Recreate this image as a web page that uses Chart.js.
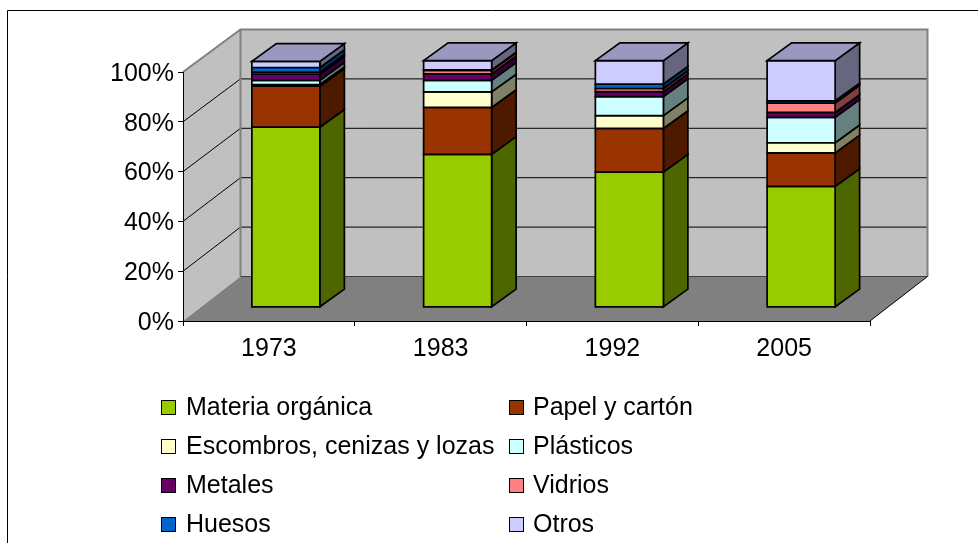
<!DOCTYPE html>
<html>
<head>
<meta charset="utf-8">
<style>html,body{margin:0;padding:0;background:#fff}canvas{display:block}</style>
<script src="https://cdn.jsdelivr.net/npm/chart.js@4/dist/chart.umd.min.js"></script>
</head>
<body>
<canvas id="c" width="978" height="543"></canvas>
<script>
const categories = ['1973', '1983', '1992', '2005'];
const materiaOrganica = [73.0, 62.0, 54.8, 49.0];
const papelCarton = [16.6, 19.0, 17.7, 13.6];
const escombros = [0.7, 6.3, 5.2, 4.1];
const plasticos = [1.7, 4.7, 7.7, 10.3];
const metales = [2.5, 2.6, 2.0, 2.0];
const vidrios = [0.8, 1.4, 1.3, 3.8];
const huesos = [1.9, 0.2, 1.8, 0.9];
const otros = [2.5, 3.8, 9.5, 16.3];
const yTicks = [0, 20, 40, 60, 80, 100];

const FONT = '"Liberation Sans", Arial, sans-serif';
const FS = 25;
const WALL = '#C0C0C0', FLOOR = '#808080';
const DEPTH_X = 57.5, WALL_TOP = 29.5, WALL_BOTTOM = 276.5;
const BAR_SHIFT_X = 17, BAR_DX = 24.5, BAR_DY = 17.7, BAR_LW = 1.7;

const poly = (ctx, pts, fill, stroke, lw) => {
  ctx.beginPath();
  pts.forEach((p, i) => i ? ctx.lineTo(p[0], p[1]) : ctx.moveTo(p[0], p[1]));
  ctx.closePath();
  if (fill) { ctx.fillStyle = fill; ctx.fill(); }
  if (stroke) { ctx.strokeStyle = stroke; ctx.lineWidth = lw; ctx.lineJoin = 'miter'; ctx.stroke(); }
};
const shade = (hex, f) => {
  const n = parseInt(hex.slice(1), 16);
  const c = [n >> 16, (n >> 8) & 255, n & 255].map(v => Math.round(v * f));
  return `rgb(${c[0]},${c[1]},${c[2]})`;
};

const scene = {
  id: 'scene',
  beforeDraw(chart) {
    const { ctx, chartArea: a, scales: { y } } = chart;
    if (!chart.$labelsShifted) {
      y.getLabelItems().forEach(item => { item.textOffset += 2; });
      chart.$labelsShifted = true;
    }
    ctx.save();
    ctx.fillStyle = '#fff';
    ctx.fillRect(0, 0, chart.width, chart.height);
    const L = a.left, R = a.right, T = a.top, B = a.bottom;
    const BL = L + DEPTH_X, BR = R + DEPTH_X;
    const wallY = p => WALL_BOTTOM - (B - p) * (WALL_BOTTOM - WALL_TOP) / (B - T);
    poly(ctx, [[L, T], [BL, WALL_TOP], [BL, WALL_BOTTOM], [L, B]], WALL);
    poly(ctx, [[BL, WALL_TOP], [BR, WALL_TOP], [BR, WALL_BOTTOM], [BL, WALL_BOTTOM]], WALL);
    poly(ctx, [[L, B], [BL, WALL_BOTTOM], [BR, WALL_BOTTOM], [R, B]], FLOOR);
    ctx.strokeStyle = '#000';
    ctx.lineWidth = 1;
    y.ticks.forEach(t => {
      if (t.value === 0 || t.value === 100) return;
      const py = y.getPixelForValue(t.value);
      ctx.beginPath();
      ctx.moveTo(L, py);
      ctx.lineTo(BL, wallY(py));
      ctx.lineTo(BR, wallY(py));
      ctx.stroke();
    });
    ctx.strokeStyle = '#808080';
    ctx.lineWidth = 2;
    ctx.beginPath();
    ctx.moveTo(L, T);
    ctx.lineTo(BL, WALL_TOP);
    ctx.lineTo(BR, WALL_TOP);
    ctx.lineTo(BR, WALL_BOTTOM);
    ctx.moveTo(BL, WALL_TOP);
    ctx.lineTo(BL, WALL_BOTTOM);
    ctx.stroke();
    ctx.strokeStyle = '#404040';
    ctx.lineWidth = 1;
    ctx.beginPath();
    ctx.moveTo(BL, WALL_BOTTOM);
    ctx.lineTo(BR, WALL_BOTTOM);
    ctx.stroke();
    ctx.strokeStyle = '#000';
    ctx.beginPath();
    ctx.moveTo(R, B);
    ctx.lineTo(BR, WALL_BOTTOM);
    ctx.stroke();
    ctx.restore();
  },
  beforeDatasetsDraw(chart) {
    const { ctx, chartArea: a } = chart;
    const toFront = p => 307.3 - (a.bottom - p) * 246.7 / (a.bottom - a.top);
    ctx.save();
    const last = chart.data.datasets.length - 1;
    chart.data.datasets.forEach((ds, di) => {
      const meta = chart.getDatasetMeta(di);
      meta.data.forEach(el => {
        const x0 = el.x - el.width / 2 + BAR_SHIFT_X, x1 = x0 + el.width;
        const yT = toFront(el.y), yB = toFront(el.base);
        poly(ctx, [[x1, yT], [x1 + BAR_DX, yT - BAR_DY], [x1 + BAR_DX, yB - BAR_DY], [x1, yB]],
          shade(ds.backgroundColor, 0.5), '#000', BAR_LW);
        poly(ctx, [[x0, yT], [x1, yT], [x1, yB], [x0, yB]], ds.backgroundColor, '#000', BAR_LW);
        if (di === last) {
          poly(ctx, [[x0, yT], [x0 + BAR_DX, yT - BAR_DY], [x1 + BAR_DX, yT - BAR_DY], [x1, yT]],
            shade(ds.backgroundColor, 0.75), '#000', BAR_LW);
        }
      });
    });
    ctx.restore();
    return false;
  },
  afterDraw(chart) {
    const { ctx } = chart;
    ctx.save();
    ctx.strokeStyle = '#000';
    ctx.lineWidth = 1;
    ctx.beginPath();
    ctx.moveTo(7.5, 543);
    ctx.lineTo(7.5, 10.5);
    ctx.lineTo(978, 10.5);
    ctx.stroke();
    const cols = [161, 509], textGaps = [25, 24], rows = [407, 446, 485, 524];
    ctx.font = FS + 'px ' + FONT;
    ctx.textBaseline = 'middle';
    ctx.textAlign = 'left';
    chart.data.datasets.forEach((ds, i) => {
      const c = cols[i % 2], r = rows[Math.floor(i / 2)];
      ctx.fillStyle = ds.backgroundColor;
      ctx.fillRect(c + .5, r - 6.5, 14, 14);
      ctx.strokeStyle = '#000';
      ctx.lineWidth = 1;
      ctx.strokeRect(c + .5, r - 6.5, 14, 14);
      ctx.fillStyle = '#000';
      ctx.fillText(ds.label, c + textGaps[i % 2], r + 1);
    });
    ctx.restore();
  }
};

new Chart(document.getElementById('c'), {
  type: 'bar',
  data: {
    labels: categories,
    datasets: [
      { label: 'Materia orgánica', data: materiaOrganica, backgroundColor: '#99CC00' },
      { label: 'Papel y cartón', data: papelCarton, backgroundColor: '#993300' },
      { label: 'Escombros, cenizas y lozas', data: escombros, backgroundColor: '#FFFFCC' },
      { label: 'Plásticos', data: plasticos, backgroundColor: '#CCFFFF' },
      { label: 'Metales', data: metales, backgroundColor: '#660066' },
      { label: 'Vidrios', data: vidrios, backgroundColor: '#FF8080' },
      { label: 'Huesos', data: huesos, backgroundColor: '#0066CC' },
      { label: 'Otros', data: otros, backgroundColor: '#CCCCFF' }
    ]
  },
  plugins: [scene],
  options: {
    responsive: false,
    animation: false,
    devicePixelRatio: 1,
    barPercentage: 0.396,
    categoryPercentage: 1,
    layout: { padding: { left: 0, top: 72, right: 108, bottom: 0 } },
    plugins: { legend: { display: false }, tooltip: { enabled: false } },
    scales: {
      x: {
        stacked: true,
        grid: { drawOnChartArea: false, drawTicks: true, tickLength: 5, tickColor: '#000', offset: true },
        border: { color: '#000', width: 1 },
        ticks: { color: '#000', font: { family: FONT, size: FS }, padding: 8, maxRotation: 0 },
        afterFit: s => { s.height = 222; }
      },
      y: {
        stacked: true,
        min: 0,
        max: 100,
        afterBuildTicks: s => { s.ticks = yTicks.map(v => ({ value: v })); },
        grid: { drawOnChartArea: false, drawTicks: true, tickLength: 5, tickColor: '#000' },
        border: { color: '#000', width: 1 },
        ticks: { color: '#000', font: { family: FONT, size: FS }, padding: 4, callback: v => v + '%' },
        afterFit: s => { s.width = 183; }
      }
    }
  }
});
</script>
</body>
</html>
